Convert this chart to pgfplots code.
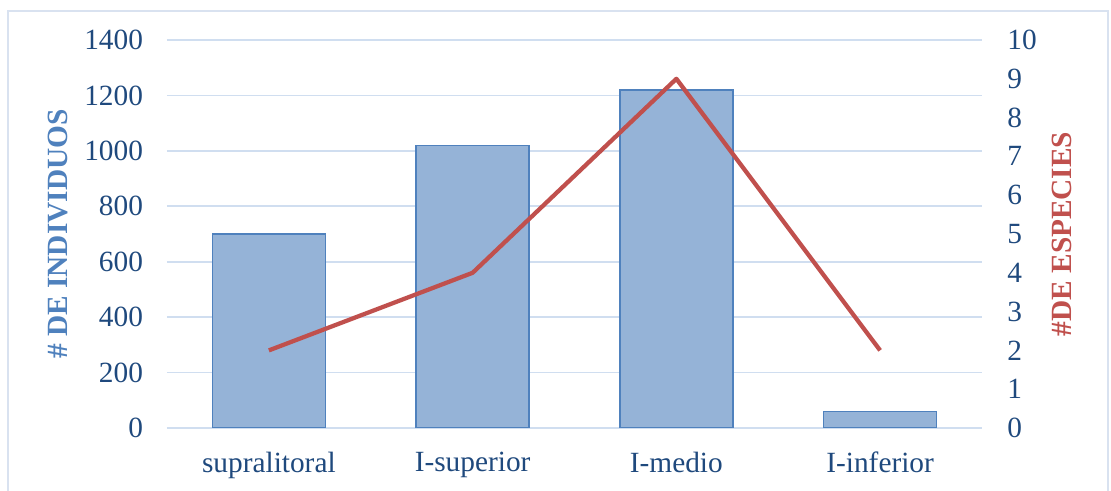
\documentclass[border=0pt]{standalone}
\usepackage{fontspec}
\setmainfont{Liberation Serif}
\usepackage{pgfplots}
\pgfplotsset{compat=1.18}

\definecolor{ticktext}{HTML}{1F497D}
\definecolor{barfill}{HTML}{95B3D7}
\definecolor{baredge}{HTML}{4F81BD}
\definecolor{linered}{HTML}{C0504D}
\definecolor{gridblue}{HTML}{D0DEF0}
\definecolor{framecol}{HTML}{D9E2F0}

\pgfplotsset{
  base/.style={
    width=611.25pt, height=291pt, scale only axis,
    at={(0,0)}, anchor=south west,
    xmin=-0.5, xmax=3.5,
    axis line style={draw=none},
    tick style={draw=none}, major tick length=0pt,
    tick label style={font=\fontsize{22}{26}\selectfont, text=ticktext},
    /pgf/number format/assume math mode=true,
    /pgf/number format/1000 sep={},
    every axis y label/.style={rotate=90, anchor=center,
      font=\fontsize{22}{26}\selectfont\bfseries},
  }
}

\begin{document}
\begin{tikzpicture}
% chart frame
\draw[framecol, line width=1pt] (-119.25pt,-60pt) rectangle (705.75pt,312.75pt);

% individuals per zone (bars, left axis)
\begin{axis}[base,
  ymin=0, ymax=1400, ytick={0,200,...,1400},
  ymajorgrids, grid style={gridblue, line width=1.2pt},
  xtick={0,1,2,3},
  xticklabels={supralitoral,I-superior,I-medio,I-inferior},
  yticklabel style={xshift=-14.5pt},
  xticklabel style={yshift=-14.5pt},
  ylabel={\# DE INDIVIDUOS},
  ylabel style={text=baredge, at={(axis description cs:-0.1337,0.5)}},
]
\addplot[ybar, bar width=84.75pt, fill=barfill, draw=baredge, line width=1.1pt]
  coordinates {(0,700) (1,1020) (2,1220) (3,60)};
\end{axis}

% species per zone (line, right axis)
\begin{axis}[base,
  ymin=0, ymax=10, ytick={0,1,...,10},
  yticklabel pos=right,
  xtick=\empty,
  yticklabel style={xshift=15.5pt},
  ylabel={\#DE ESPECIES},
  ylabel style={text=linered, at={(axis description cs:1.0982,0.5)}},
]
\addplot[linered, line width=3.2pt, line join=round, mark=none]
  coordinates {(0,2) (1,4) (2,9) (3,2)};
\end{axis}

\pgfresetboundingbox
\path (-125.25pt,-47.25pt) rectangle (708pt,321pt);
\end{tikzpicture}
\end{document}
